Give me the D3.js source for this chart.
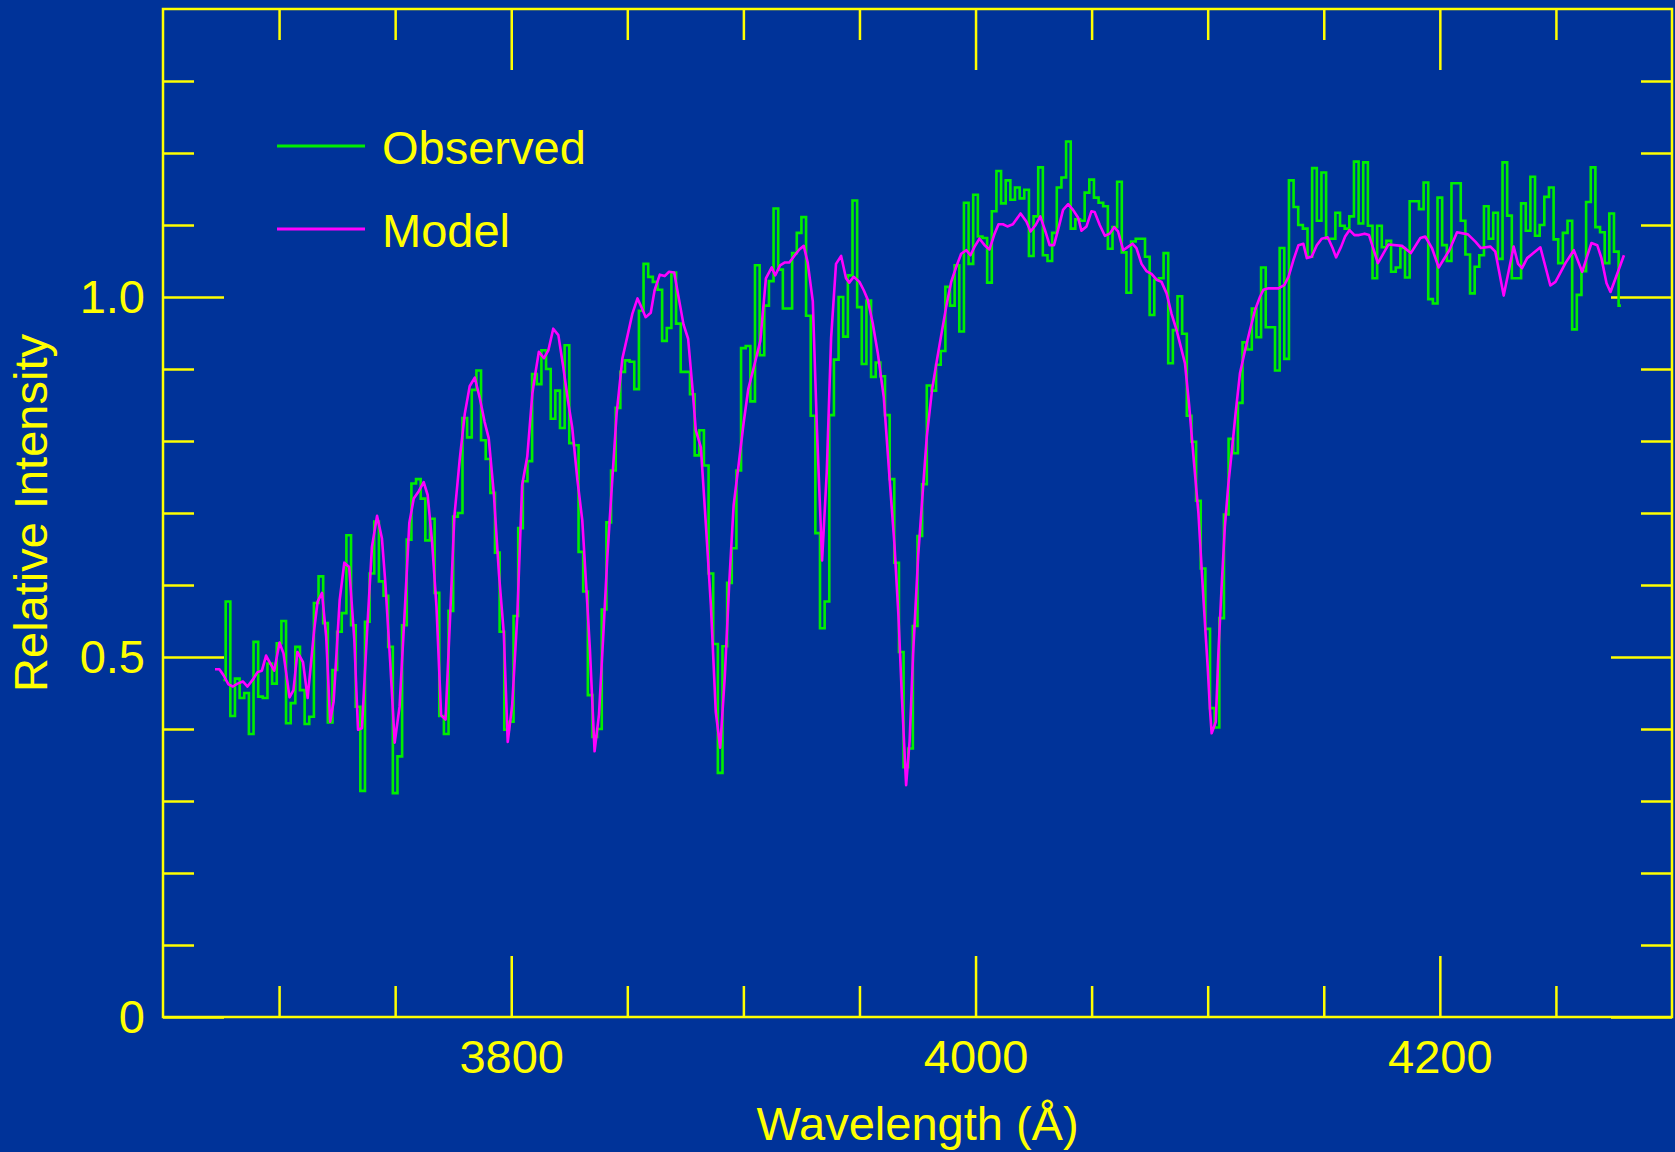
<!DOCTYPE html>
<html>
<head>
<meta charset="utf-8">
<script src="https://cdn.jsdelivr.net/npm/d3@7"></script>
<style>
  html, body { margin: 0; padding: 0; background: #003399; }
  svg { display: block; }
  text { font-family: "Liberation Sans", Arial, Helvetica, sans-serif; fill: #ffff00; }
</style>
</head>
<body>
<svg width="1675" height="1152"></svg>
<script>
  // observed spectrum, one value per 2 A bin starting at 3676 A
  const obsStart = 3676, obsStep = 2;
  const observed = [
    0.468, 0.577, 0.418, 0.470, 0.443, 0.450, 0.393, 0.521, 0.445, 0.443,
    0.491, 0.463, 0.519, 0.550, 0.408, 0.436, 0.514, 0.454, 0.407, 0.417,
    0.575, 0.612, 0.547, 0.409, 0.482, 0.535, 0.561, 0.669, 0.544, 0.431,
    0.314, 0.549, 0.616, 0.688, 0.605, 0.585, 0.514, 0.311, 0.362, 0.544,
    0.663, 0.741, 0.747, 0.720, 0.662, 0.692, 0.589, 0.418, 0.393,
    0.564, 0.695, 0.700, 0.832, 0.805, 0.871, 0.898, 0.801, 0.775, 0.728,
    0.645, 0.535, 0.399, 0.410, 0.557, 0.679, 0.744, 0.772, 0.893, 0.879,
    0.926, 0.900, 0.831, 0.870, 0.818, 0.933, 0.797, 0.794, 0.646, 0.591,
    0.447, 0.389, 0.400, 0.566, 0.687, 0.759, 0.846, 0.896, 0.912, 0.910,
    0.872, 0.981,
    1.046, 1.028, 1.021, 1.010, 0.939, 0.957, 1.034, 0.963, 0.896, 0.896,
    0.865, 0.780, 0.815, 0.766, 0.616, 0.518, 0.339, 0.515, 0.603, 0.651,
    0.759, 0.929, 0.932, 0.855, 1.044, 0.919, 0.988, 1.022, 1.123, 1.038,
    0.984, 0.984, 1.061, 1.089, 1.111, 0.974, 0.835, 0.672, 0.540, 0.577,
    0.836, 0.913, 1.000, 0.945, 1.030, 1.134, 0.986, 0.907, 0.995, 0.889,
    0.909, 0.890, 0.836, 0.747, 0.631, 0.507, 0.347, 0.373,
    0.543, 0.668, 0.740, 0.877, 0.870, 0.906, 0.925, 1.014, 0.988, 1.044,
    0.952, 1.131, 1.046, 1.142, 1.084, 1.082, 1.020, 1.119, 1.175, 1.130,
    1.162, 1.135, 1.152, 1.137, 1.149, 1.057, 1.112, 1.180, 1.058, 1.050,
    1.089, 1.152, 1.166, 1.216, 1.095, 1.108, 1.106, 1.145, 1.163, 1.138,
    1.131, 1.126, 1.067, 1.097, 1.160, 1.062, 1.006, 1.077, 1.081,
    1.081, 1.056, 0.975, 1.024, 1.026, 1.061, 0.908, 0.954, 1.001, 0.949,
    0.835, 0.799, 0.717, 0.623, 0.539, 0.429, 0.402, 0.554, 0.698, 0.803,
    0.783, 0.853, 0.937, 0.927, 0.984, 0.944, 1.041, 0.958, 0.958, 0.898,
    1.068, 0.914, 1.162, 1.125, 1.100, 1.095, 1.056, 1.179, 1.106, 1.173,
    1.081, 1.081, 1.117, 1.099, 1.095, 1.112, 1.188, 1.102, 1.187, 1.099,
    1.026, 1.099, 1.069, 1.078, 1.035, 1.041, 1.068, 1.027, 1.133, 1.133,
    1.122, 1.159, 0.997, 0.991, 1.138, 1.072, 1.050, 1.158, 1.158, 1.106,
    1.059, 1.005, 1.042, 1.058, 1.126, 1.081, 1.117, 1.053, 1.187, 1.113,
    1.026, 1.026, 1.130, 1.092, 1.167, 1.085, 1.100, 1.139, 1.152, 1.080,
    1.047, 1.089, 1.106, 0.955, 1.003, 1.036, 1.132, 1.180, 1.097, 1.090,
    1.047, 1.116, 1.063, 0.988
  ];

  // model spectrum (wavelength, relative intensity)
  const modelWave = [
    3672.4, 3674.3, 3676.0, 3678.2, 3680.1, 3682.1, 3684.4, 3686.4, 3689.0, 3690.7,
    3692.6, 3694.4, 3696.2, 3697.9, 3700.2, 3701.9, 3704.5, 3706.2, 3707.9, 3710.3,
    3712.3, 3715.1, 3716.6, 3718.5, 3720.3, 3722.0, 3723.5, 3726.1, 3728.1, 3730.2,
    3732.4, 3734.0, 3735.7, 3737.9, 3740.0, 3742.2, 3744.3, 3745.8, 3747.9, 3749.8,
    3751.9, 3754.0, 3756.1, 3758.0, 3760.1, 3762.3, 3764.0, 3765.9, 3767.8, 3769.8,
    3771.7, 3773.8, 3775.5, 3777.8, 3780.0, 3782.1, 3784.3, 3786.5, 3788.5, 3790.3,
    3792.5, 3794.7, 3796.8, 3798.5, 3800.4, 3802.6, 3804.7, 3806.9, 3809.1, 3810.5,
    3811.9, 3814.1, 3816.0, 3818.1, 3820.3, 3822.4, 3824.4, 3826.3, 3828.5, 3830.6,
    3832.5, 3833.9, 3835.9, 3837.8, 3839.7, 3841.4, 3843.6, 3845.4, 3847.9, 3850.0,
    3852.2, 3854.4, 3856.2, 3857.9, 3860.1, 3861.8, 3864.0, 3866.1, 3868.0, 3870.2,
    3872.3, 3874.2, 3876.2, 3878.1, 3879.5, 3881.7, 3883.8, 3886.0, 3888.1, 3890.0,
    3892.0, 3893.9, 3895.8, 3897.8, 3900.1, 3902.1, 3904.7, 3907.3, 3909.7, 3912.2,
    3913.7, 3915.8, 3917.9, 3919.8, 3921.9, 3924.1, 3926.0, 3927.7, 3929.9, 3931.7,
    3933.9, 3935.9, 3937.8, 3939.9, 3942.1, 3944.2, 3945.6, 3947.5, 3950.0, 3951.9,
    3953.6, 3955.7, 3957.9, 3960.5, 3962.9, 3965.1, 3966.8, 3968.3, 3970.1, 3971.6,
    3973.1, 3975.3, 3977.5, 3979.0, 3981.3, 3983.5, 3985.6, 3987.4, 3989.5, 3991.7,
    3993.8, 3996.0, 3997.8, 3999.6, 4001.7, 4003.9, 4006.0, 4008.2, 4009.9, 4011.8,
    4013.7, 4016.1, 4019.4, 4021.9, 4023.7, 4025.9, 4027.9, 4030.1, 4031.9, 4033.8,
    4035.6, 4037.7, 4039.9, 4042.0, 4044.2, 4045.6, 4047.8, 4049.9, 4051.3, 4053.5,
    4055.7, 4057.8, 4059.7, 4061.4, 4063.6, 4065.8, 4067.6, 4069.3, 4071.5, 4073.6,
    4075.8, 4078.0, 4080.1, 4082.3, 4084.4, 4086.6, 4088.4, 4090.2, 4092.0, 4093.8,
    4096.0, 4098.1, 4100.0, 4101.0, 4101.7, 4103.5, 4104.6, 4106.0, 4107.4, 4108.9,
    4110.3, 4112.0, 4113.9, 4116.1, 4118.2, 4120.4, 4122.5, 4124.0, 4126.2, 4128.3,
    4130.5, 4133.1, 4134.8, 4136.9, 4139.1, 4141.2, 4142.7, 4144.8, 4147.0, 4149.1,
    4151.7, 4153.8, 4155.3, 4157.5, 4159.2, 4161.1, 4163.2, 4165.2, 4167.6, 4169.5,
    4173.3, 4177.9, 4183.7, 4187.5, 4191.6, 4193.7, 4196.6, 4199.5, 4204.1, 4207.4,
    4212.1, 4215.3, 4217.7, 4221.8, 4223.9, 4227.5, 4231.8, 4233.7, 4235.4, 4237.6,
    4243.3, 4247.6, 4249.8, 4254.1, 4257.7, 4261.3, 4265.3, 4267.8, 4269.6, 4271.8,
    4273.5, 4275.7, 4279.3
  ];
  const modelFlux = [
    0.483, 0.483, 0.475, 0.462, 0.459, 0.463, 0.466, 0.459, 0.470, 0.479,
    0.481, 0.502, 0.491, 0.481, 0.520, 0.505, 0.444, 0.454, 0.507, 0.493,
    0.443, 0.537, 0.577, 0.589, 0.528, 0.410, 0.438, 0.579, 0.631, 0.625,
    0.524, 0.399, 0.401, 0.535, 0.653, 0.696, 0.665, 0.602, 0.491, 0.381,
    0.431, 0.556, 0.686, 0.720, 0.730, 0.743, 0.725, 0.660, 0.570, 0.419,
    0.413, 0.565, 0.695, 0.774, 0.838, 0.876, 0.888, 0.859, 0.827, 0.804,
    0.727, 0.616, 0.533, 0.382, 0.433, 0.556, 0.739, 0.778, 0.866, 0.896,
    0.924, 0.915, 0.926, 0.956, 0.947, 0.903, 0.857, 0.818, 0.746, 0.690,
    0.588, 0.510, 0.369, 0.420, 0.533, 0.639, 0.750, 0.838, 0.915, 0.945,
    0.977, 0.998, 0.985, 0.972, 0.978, 1.010, 1.031, 1.029, 1.035, 1.034,
    0.996, 0.962, 0.942, 0.872, 0.815, 0.791, 0.686, 0.572, 0.424, 0.374,
    0.473, 0.602, 0.711, 0.763, 0.825, 0.872, 0.905, 0.939, 1.026, 1.041,
    1.030, 1.044, 1.048, 1.048, 1.057, 1.066, 1.071, 1.048, 0.994, 0.815,
    0.634, 0.756, 0.944, 1.046, 1.057, 1.026, 1.020, 1.028, 1.021, 1.009,
    0.996, 0.964, 0.922, 0.860, 0.751, 0.655, 0.557, 0.443, 0.322, 0.383,
    0.504, 0.641, 0.740, 0.806, 0.872, 0.915, 0.954, 0.987, 1.021, 1.042,
    1.060, 1.065, 1.058, 1.070, 1.081, 1.072, 1.066, 1.088, 1.101, 1.101,
    1.098, 1.101, 1.116, 1.105, 1.091, 1.100, 1.112, 1.091, 1.072, 1.072,
    1.094, 1.121, 1.129, 1.121, 1.110, 1.092, 1.098, 1.119, 1.118, 1.100,
    1.085, 1.088, 1.097, 1.091, 1.065, 1.070, 1.074, 1.068, 1.046, 1.036,
    1.032, 1.024, 1.021, 1.005, 0.977, 0.954, 0.931, 0.908, 0.850, 0.781,
    0.700, 0.584, 0.486, 0.426, 0.394, 0.410, 0.505, 0.598, 0.681, 0.740,
    0.783, 0.838, 0.894, 0.926, 0.954, 0.982, 1.000, 1.010, 1.012, 1.012,
    1.012, 1.017, 1.028, 1.051, 1.072, 1.074, 1.054, 1.056, 1.072, 1.081,
    1.083, 1.068, 1.055, 1.070, 1.084, 1.093, 1.086, 1.086, 1.088, 1.086,
    1.047, 1.073, 1.071, 1.061, 1.082, 1.084, 1.068, 1.041, 1.065, 1.090,
    1.087, 1.077, 1.068, 1.070, 1.063, 1.002, 1.070, 1.046, 1.040, 1.054,
    1.069, 1.016, 1.021, 1.047, 1.065, 1.035, 1.075, 1.072, 1.054, 1.019,
    1.007, 1.026, 1.058
  ];

  const xMajor = [3800, 4000, 4200];
  const xMinor = [3700, 3750, 3850, 3900, 3950, 4050, 4100, 4150, 4250];
  const yMajor = [0, 0.5, 1.0];
  const yMinor = [0.1, 0.2, 0.3, 0.4, 0.6, 0.7, 0.8, 0.9, 1.1, 1.2, 1.3];
  const seriesNames = ["Observed", "Model"];
  const seriesColors = ["#00ee00", "#ff00ff"];

  const svg = d3.select("svg"),
        width = +svg.attr("width"),
        height = +svg.attr("height"),
        margin = {top: 9, right: 3, bottom: 135, left: 163};

  svg.append("rect").attr("width", width).attr("height", height).attr("fill", "#003399");

  const x = d3.scaleLinear()
    .domain([3650, 4300])
    .range([margin.left, width - margin.right]);

  const y = d3.scaleLinear()
    .domain([0, 1.4])
    .range([height - margin.bottom, margin.top]);

  const yFmt = d => d === 0 ? "0" : d3.format(".1f")(d);

  function styleAxis(g) {
    g.select(".domain").remove();
    g.selectAll("line").attr("stroke", "#ffff00").attr("stroke-width", 2.5);
    g.selectAll("text").attr("fill", "#ffff00").style("font-size", "47px")
      .style("font-family", '"Liberation Sans", Arial, Helvetica, sans-serif');
  }

  const yBot = y(0), yTop = y(1.4);
  // bottom
  svg.append("g").attr("transform", `translate(0,${yBot})`)
    .call(d3.axisBottom(x).tickValues(xMinor).tickSize(-31).tickFormat(""))
    .call(styleAxis);
  svg.append("g").attr("transform", `translate(0,${yBot})`)
    .call(d3.axisBottom(x).tickValues(xMajor).tickSize(-61).tickPadding(23).tickFormat(d3.format("d")))
    .call(styleAxis);
  // top
  svg.append("g").attr("transform", `translate(0,${yTop})`)
    .call(d3.axisTop(x).tickValues(xMinor).tickSize(-31).tickFormat(""))
    .call(styleAxis);
  svg.append("g").attr("transform", `translate(0,${yTop})`)
    .call(d3.axisTop(x).tickValues(xMajor).tickSize(-61).tickFormat(""))
    .call(styleAxis);
  // left
  svg.append("g").attr("transform", `translate(${x(3650)},0)`)
    .call(d3.axisLeft(y).tickValues(yMinor).tickSize(-31).tickFormat(""))
    .call(styleAxis);
  svg.append("g").attr("transform", `translate(${x(3650)},0)`)
    .call(d3.axisLeft(y).tickValues(yMajor).tickSize(-61).tickPadding(18).tickFormat(yFmt))
    .call(styleAxis);
  // right
  svg.append("g").attr("transform", `translate(${x(4300)},0)`)
    .call(d3.axisRight(y).tickValues(yMinor).tickSize(-31).tickFormat(""))
    .call(styleAxis);
  svg.append("g").attr("transform", `translate(${x(4300)},0)`)
    .call(d3.axisRight(y).tickValues(yMajor).tickSize(-61).tickFormat(""))
    .call(styleAxis);

  // frame
  svg.append("rect")
    .attr("x", x(3650)).attr("y", y(1.4))
    .attr("width", x(4300) - x(3650)).attr("height", y(0) - y(1.4))
    .attr("fill", "none").attr("stroke", "#ffff00").attr("stroke-width", 2.5);

  // data
  const obsData = observed.map((v, i) => ({w: obsStart + i * obsStep, v}));
  const modData = modelWave.map((w, i) => ({w, v: modelFlux[i]}));

  svg.append("path")
    .datum(obsData)
    .attr("fill", "none")
    .attr("stroke", seriesColors[0])
    .attr("stroke-width", 2.6)
    .attr("d", d3.line().x(d => x(d.w)).y(d => y(d.v)).curve(d3.curveStep));

  svg.append("path")
    .datum(modData)
    .attr("fill", "none")
    .attr("stroke", seriesColors[1])
    .attr("stroke-width", 2.6)
    .attr("stroke-linejoin", "round")
    .attr("d", d3.line().x(d => x(d.w)).y(d => y(d.v)));

  // legend
  const legend = svg.append("g").attr("transform", "translate(277,146)");
  seriesNames.forEach((name, i) => {
    const row = legend.append("g").attr("transform", `translate(0,${i * 83})`);
    row.append("line").attr("x1", 0).attr("x2", 88)
      .attr("stroke", seriesColors[i]).attr("stroke-width", 3);
    row.append("text").attr("x", 105).attr("y", 18)
      .style("font-size", "47px").text(name);
  });

  // axis titles
  svg.append("text")
    .attr("x", (x(3650) + x(4300)) / 2).attr("y", 1140)
    .attr("text-anchor", "middle")
    .style("font-size", "47px")
    .text("Wavelength (Å)");

  svg.append("text")
    .attr("transform", `translate(47,${(y(0) + y(1.4)) / 2}) rotate(-90)`)
    .attr("text-anchor", "middle")
    .style("font-size", "47px")
    .text("Relative Intensity");
</script>
</body>
</html>
